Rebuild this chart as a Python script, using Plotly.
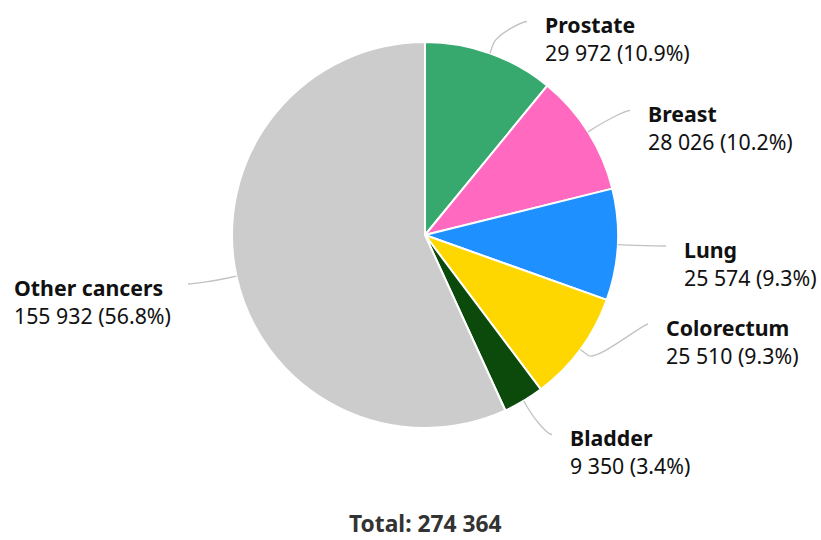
import math
import plotly.graph_objects as go

# ---- data ----
categories = ["Prostate", "Breast", "Lung", "Colorectum", "Bladder", "Other cancers"]
values = [29972, 28026, 25574, 25510, 9350, 155932]
colors = ["#37A86E", "#FF69C0", "#1E90FF", "#FFD700", "#0B4A0B", "#CCCCCC"]
total_label = "Total: 274 364"

# ---- layout constants (pixels) ----
W, H = 821, 540
CX, CY, R = 425, 235, 193
# connector end (label side) position and label side for each category
label_end_y = [21.5, 110.5, 246, 324, 434.5, 284]
label_end_x = [527, 630, 666, 648, 552, 188]
label_side = [1, 1, 1, 1, 1, -1]
TEXT_GAP = 15.5
FONT = "Noto Sans, Open Sans, sans-serif"
FS = 21.3
FS_TOTAL = 22.8


def px(x):
    return x / W


def py(y):
    return 1 - y / H


def fmt(v):
    return f"{v:,}".replace(",", " ")


total = sum(values)

fig = go.Figure(go.Pie(
    labels=categories, values=values, sort=False, direction="clockwise", rotation=0,
    marker=dict(colors=colors, line=dict(color="white", width=2)),
    textinfo="none", hoverinfo="label+value+percent", showlegend=False,
    domain=dict(x=[px(CX - R), px(CX + R)], y=[py(CY + R), py(CY - R)]),
))

shapes = []
annotations = []
cum = 0
for i, (cat, v) in enumerate(zip(categories, values)):
    mid = (cum + v / 2) / total * 2 * math.pi
    cum += v
    sx, sy = CX + R * math.sin(mid), CY - R * math.cos(mid)
    off = 10
    bx, by = CX + (R + off) * math.sin(mid), CY - (R + off) * math.cos(mid)
    c2x, c2y = 2 * bx - sx, 2 * by - sy
    side = label_side[i]
    ex, ey = label_end_x[i], label_end_y[i]
    c1x = ex - 5 * side
    path = (f"M {px(ex)},{py(ey)} C {px(c1x)},{py(ey)} {px(c2x)},{py(c2y)} {px(bx)},{py(by)} "
            f"L {px(sx)},{py(sy)}")
    shapes.append(dict(type="path", xref="paper", yref="paper", path=path,
                       line=dict(color="#c2c2c2", width=1.3)))
    pct = v / total * 100
    text = f"<b>{cat}</b><br>{fmt(v)} ({pct:.1f}%)"
    tx = ex + TEXT_GAP * side
    annotations.append(dict(
        x=px(tx), y=py(ey - 13.5), xref="paper", yref="paper", text=text, showarrow=False,
        xanchor="left" if side > 0 else "right", yanchor="top",
        align="left", font=dict(family=FONT, size=FS, color="#111111"),
    ))

annotations.append(dict(
    x=px(CX), y=0, xref="paper", yref="paper", text=f"<b>{total_label}</b>",
    showarrow=False, xanchor="center", yanchor="bottom", borderpad=0,
    font=dict(family=FONT, size=FS_TOTAL, color="#333333"),
))

fig.update_layout(
    width=W, height=H, margin=dict(l=0, r=0, t=0, b=0),
    paper_bgcolor="white", plot_bgcolor="white",
    shapes=shapes, annotations=annotations,
)

fig.write_html("out.html", config={"displayModeBar": False},
               post_script="document.body.style.margin='0';document.body.style.overflow='hidden';")
